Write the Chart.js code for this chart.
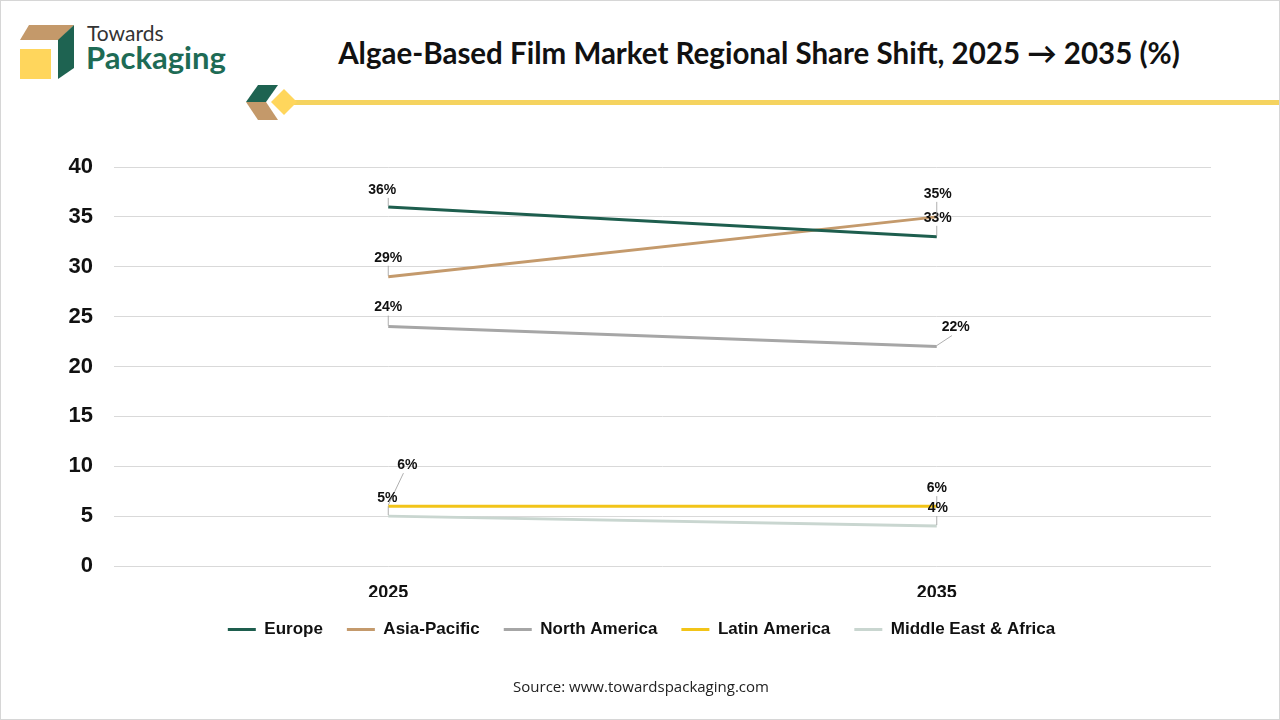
<!DOCTYPE html>
<html>
<head>
<meta charset="utf-8">
<script src="https://cdn.jsdelivr.net/npm/chart.js@4.4.1/dist/chart.umd.min.js"></script>
<style>
  html, body { margin: 0; padding: 0; background: #fff; }
  #wrap { position: relative; width: 1280px; height: 720px; overflow: hidden; box-sizing: border-box; border: 1px solid #d6d6d6; }
  #chart { position: absolute; left: 0; top: 0; }
  #title { position: absolute; left: 258px; width: 1000px; top: 34px; text-align: center; font-family: Lato, "Open Sans", sans-serif; font-weight: 700; font-size: 29.5px; line-height: 36px; color: #111; }
  #source { position: absolute; left: 0; width: 1280px; top: 675px; text-align: center; font-family: "Open Sans", Lato, sans-serif; font-size: 15px; color: #222; }
  #logo { position: absolute; left: 0; top: 0; }
</style>
</head>
<body>
<div id="wrap">
  <svg id="logo" width="1280" height="130" xmlns="http://www.w3.org/2000/svg">
    <polygon points="19,48 50,48 50,78 19,78" fill="#FFD65C"/>
    <polygon points="28,24 73,24 58,39 19,39" fill="#C4996A"/>
    <polygon points="73,24 73,67 57,78 57,39" fill="#1E6351"/>
    <text x="86" y="40" font-family="Lato, 'Open Sans', sans-serif" font-size="21" fill="#333">Towards</text>
    <text x="85" y="68" font-family="Lato, 'Open Sans', sans-serif" font-weight="700" font-size="31" fill="#1E6B55">Packaging</text>
    <rect x="288" y="99" width="992" height="5" fill="#F5D35F"/>
    <polygon points="245,101 257,84 277,84 265,101" fill="#1E6351"/>
    <polygon points="245,101 265,101 277,119 257,119" fill="#C4996A"/>
    <polygon points="283,88 296,101 283,114 270,101" fill="#FFD65C"/>
  </svg>
  <div id="title">Algae-Based Film Market Regional Share Shift, 2025 → 2035 (%)</div>
  <canvas id="chart" width="1280" height="720"></canvas>
  <div id="source">Source: www.towardspackaging.com</div>
</div>
<script>
const years = ['2025', '2035'];
const seriesNames = ['Europe', 'Asia-Pacific', 'North America', 'Latin America', 'Middle East & Africa'];
const europe = [36, 33];
const asiaPacific = [29, 35];
const northAmerica = [24, 22];
const latinAmerica = [6, 6];
const middleEastAfrica = [5, 4];
const yMin = 0, yMax = 40, yStep = 5;

const colors = ['#1E5E4E', '#C49A6C', '#A6A6A6', '#F2C418', '#C9D6D0'];
// label offsets relative to each point (dx, dy)
const labelOffsets = [
  [[-6, -17], [1, -19]],
  [[0, -19], [1, -23]],
  [[0, -19], [19, -19]],
  [[19, -41], [0, -18]],
  [[-1, -18], [1, -18]]
];

const seriesValues = [europe, asiaPacific, northAmerica, latinAmerica, middleEastAfrica];

const dataLabelPlugin = {
  id: 'dataLabels',
  afterDatasetsDraw(chart) {
    const ctx = chart.ctx;
    ctx.save();
    chart.data.datasets.forEach((ds, di) => {
      const meta = chart.getDatasetMeta(di);
      meta.data.forEach((pt, pi) => {
        const off = labelOffsets[di][pi];
        const lx = pt.x + off[0], ly = pt.y + off[1];
        ctx.strokeStyle = '#9a9a9a';
        ctx.lineWidth = 0.8;
        ctx.beginPath();
        ctx.moveTo(pt.x, pt.y - 1);
        if (Math.abs(off[0]) > 8) {
          ctx.lineTo(pt.x + off[0] * 0.8, ly + 8);
        } else {
          ctx.lineTo(pt.x, ly + 8);
        }
        ctx.stroke();
        ctx.fillStyle = '#111';
        ctx.font = 'bold 14px "Liberation Sans", Arial, sans-serif';
        ctx.textAlign = 'center';
        ctx.textBaseline = 'middle';
        ctx.fillText(ds.data[pi] + '%', lx, ly);
      });
    });
    ctx.restore();
  }
};

new Chart(document.getElementById('chart'), {
  type: 'line',
  data: {
    labels: years,
    datasets: seriesNames.map((name, i) => ({
      label: name,
      data: seriesValues[i],
      borderColor: colors[i],
      backgroundColor: colors[i],
      borderWidth: 3,
      pointRadius: 0,
      tension: 0
    }))
  },
  options: {
    responsive: false,
    animation: false,
    devicePixelRatio: 1,
    layout: { padding: { left: 40, right: 39, top: 166, bottom: 73 } },
    plugins: {
      legend: {
        position: 'bottom',
        labels: {
          boxWidth: 28,
          boxHeight: 3,
          padding: 24,
          color: '#111',
          font: { family: '"Liberation Sans", Arial, sans-serif', weight: 'bold', size: 17 },
          generateLabels(chart) {
            return chart.data.datasets.map((ds, i) => ({
              text: ds.label,
              fillStyle: ds.borderColor,
              strokeStyle: ds.borderColor,
              lineWidth: 0,
              hidden: false,
              datasetIndex: i,
              fontColor: '#111'
            }));
          }
        }
      },
      tooltip: { enabled: false },
      title: { display: false }
    },
    scales: {
      x: {
        offset: true,
        grid: { display: false, drawTicks: false },
        border: { display: false },
        ticks: { color: '#111', padding: 16, font: { family: '"Liberation Sans", Arial, sans-serif', weight: 'bold', size: 18 } },
        afterFit(s) { s.height = 31; }
      },
      y: {
        min: yMin, max: yMax,
        ticks: { stepSize: yStep, color: '#111', padding: 21, font: { family: '"Liberation Sans", Arial, sans-serif', weight: 'bold', size: 22 } },
        grid: { color: '#D9D9D9', lineWidth: 1, drawTicks: false },
        border: { display: false },
        afterFit(s) { s.width = 73; }
      },
      yRight: {
        position: 'right',
        min: yMin, max: yMax,
        grid: { display: false, drawTicks: false },
        border: { display: false },
        ticks: { display: false },
        afterFit(s) { s.width = 31; }
      }
    }
  },
  plugins: [dataLabelPlugin]
});
</script>
</body>
</html>
